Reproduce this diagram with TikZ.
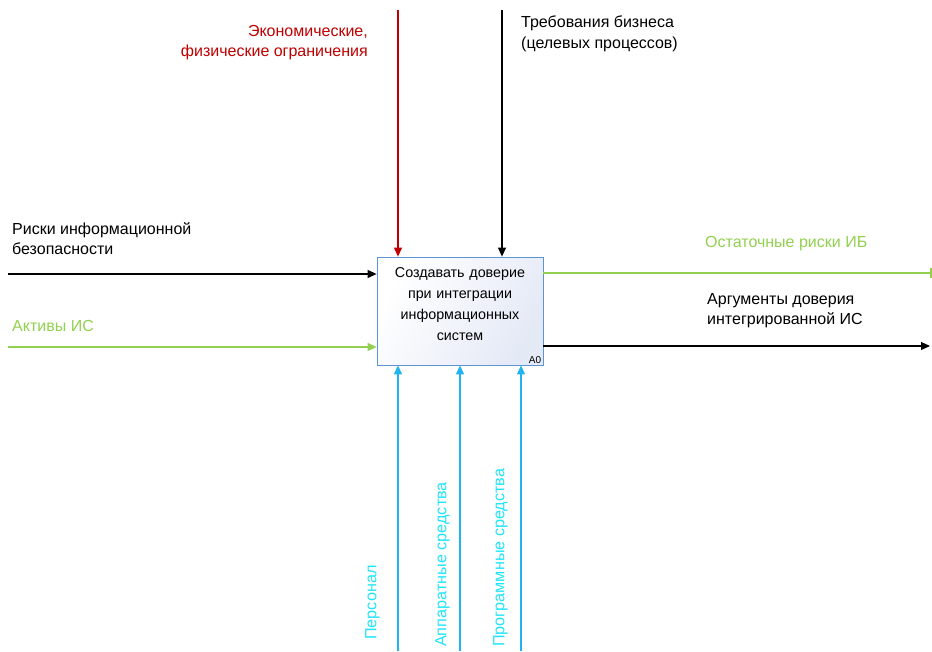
\documentclass[tikz,border=0pt]{standalone}
\usepackage{fontspec}
\setmainfont{Liberation Sans}
\usetikzlibrary{arrows.meta,positioning}
\definecolor{ctlred}{HTML}{C00000}
\definecolor{actgreen}{HTML}{92D050}
\definecolor{mechblue}{HTML}{1FB4F0}
\definecolor{mechcyan}{HTML}{22E4F8}
\definecolor{boxedge}{HTML}{5B95D5}
\definecolor{boxfill}{HTML}{E4E9F6}
\tikzset{
    %Define standard arrow tip
    >={Triangle[length=9pt,width=8pt]},
    %Define style for the function box
    func/.style={
           rectangle,
           draw=boxedge, line width=0.8pt,
           left color=white, right color=boxfill,
           shading angle=60,
           minimum width=166pt,
           minimum height=108pt},
    functext/.style={
           text width=150pt,
           align=center,
           font=\fontsize{14.3}{20.8}\selectfont},
    % Define style for labels
    lbl/.style={
           inner sep=0pt,
           align=left,
           font=\fontsize{16}{20.5}\selectfont},
    mechlbl/.style={
           inner sep=0pt,
           rotate=90,
           anchor=south west,
           text=mechcyan,
           font=\fontsize{16.2}{18}\selectfont},
    % Define arrow style
    pil/.style={
           ->,
           line width=1.1pt},
    tunnel/.style={
           -{Bar[width=10pt,line width=2pt]},
           line width=1.1pt}
}

\begin{document}
\begin{tikzpicture}[x=1pt,y=-1pt]
\useasboundingbox (0,0) rectangle (932,651);
 %nodes
\node[func](a0) at (460,311){};
\node[functext](a0txt) at ([yshift=7pt]a0.center){Создавать доверие при интеграции информационных систем};
\node[anchor=south east, inner sep=2pt, font=\fontsize{10}{12}\selectfont](a0num) at (a0.south east){A0};
 %free ends
\coordinate (ctl1) at (398,10);
\coordinate (ctl2) at (502,10);
\coordinate (inp1) at (8,274);
\coordinate (inp2) at (8,347);
\coordinate (out1) at (932,273);
\coordinate (out2) at (930,346);
\coordinate (mech1) at (398,651);
\coordinate (mech2) at (460,651);
\coordinate (mech3) at (521,651);
 %labels
\node[lbl, anchor=north east, align=right, text=ctlred](ctl1lbl) at (368,25){Экономические,\\физические ограничения};
\node[lbl, anchor=north west](ctl2lbl) at (521,16){Требования бизнеса\\(целевых процессов)};
\node[lbl, anchor=north west](inp1lbl) at (12,222){Риски информационной\\безопасности};
\node[lbl, anchor=north west, text=actgreen](inp2lbl) at (12,320){Активы ИС};
\node[lbl, anchor=north west, text=actgreen](out1lbl) at (705,236){Остаточные риски ИБ};
\node[lbl, anchor=north west](out2lbl) at (707,293){Аргументы доверия\\интегрированной ИС};
\node[mechlbl](mech1lbl) at (380,640){Персонал};
\node[mechlbl](mech2lbl) at (450,647){Аппаратные средства};
\node[mechlbl](mech3lbl) at (508,647){Программные средства};
 %arrows
\draw[pil, ctlred] (ctl1) -- (ctl1 |- a0.north);
\draw[pil] (ctl2) -- (ctl2 |- a0.north);
\draw[pil] (inp1) -- (inp1 -| a0.west);
\draw[pil, actgreen] (inp2) -- (inp2 -| a0.west);
\draw[tunnel, actgreen] (a0.east |- out1) -- (out1);
\draw[pil] (a0.east |- out2) -- (out2);
\foreach \m in {mech1,mech2,mech3}
    \draw[pil, mechblue] (\m) -- (\m |- a0.south);
\end{tikzpicture}
\end{document}
